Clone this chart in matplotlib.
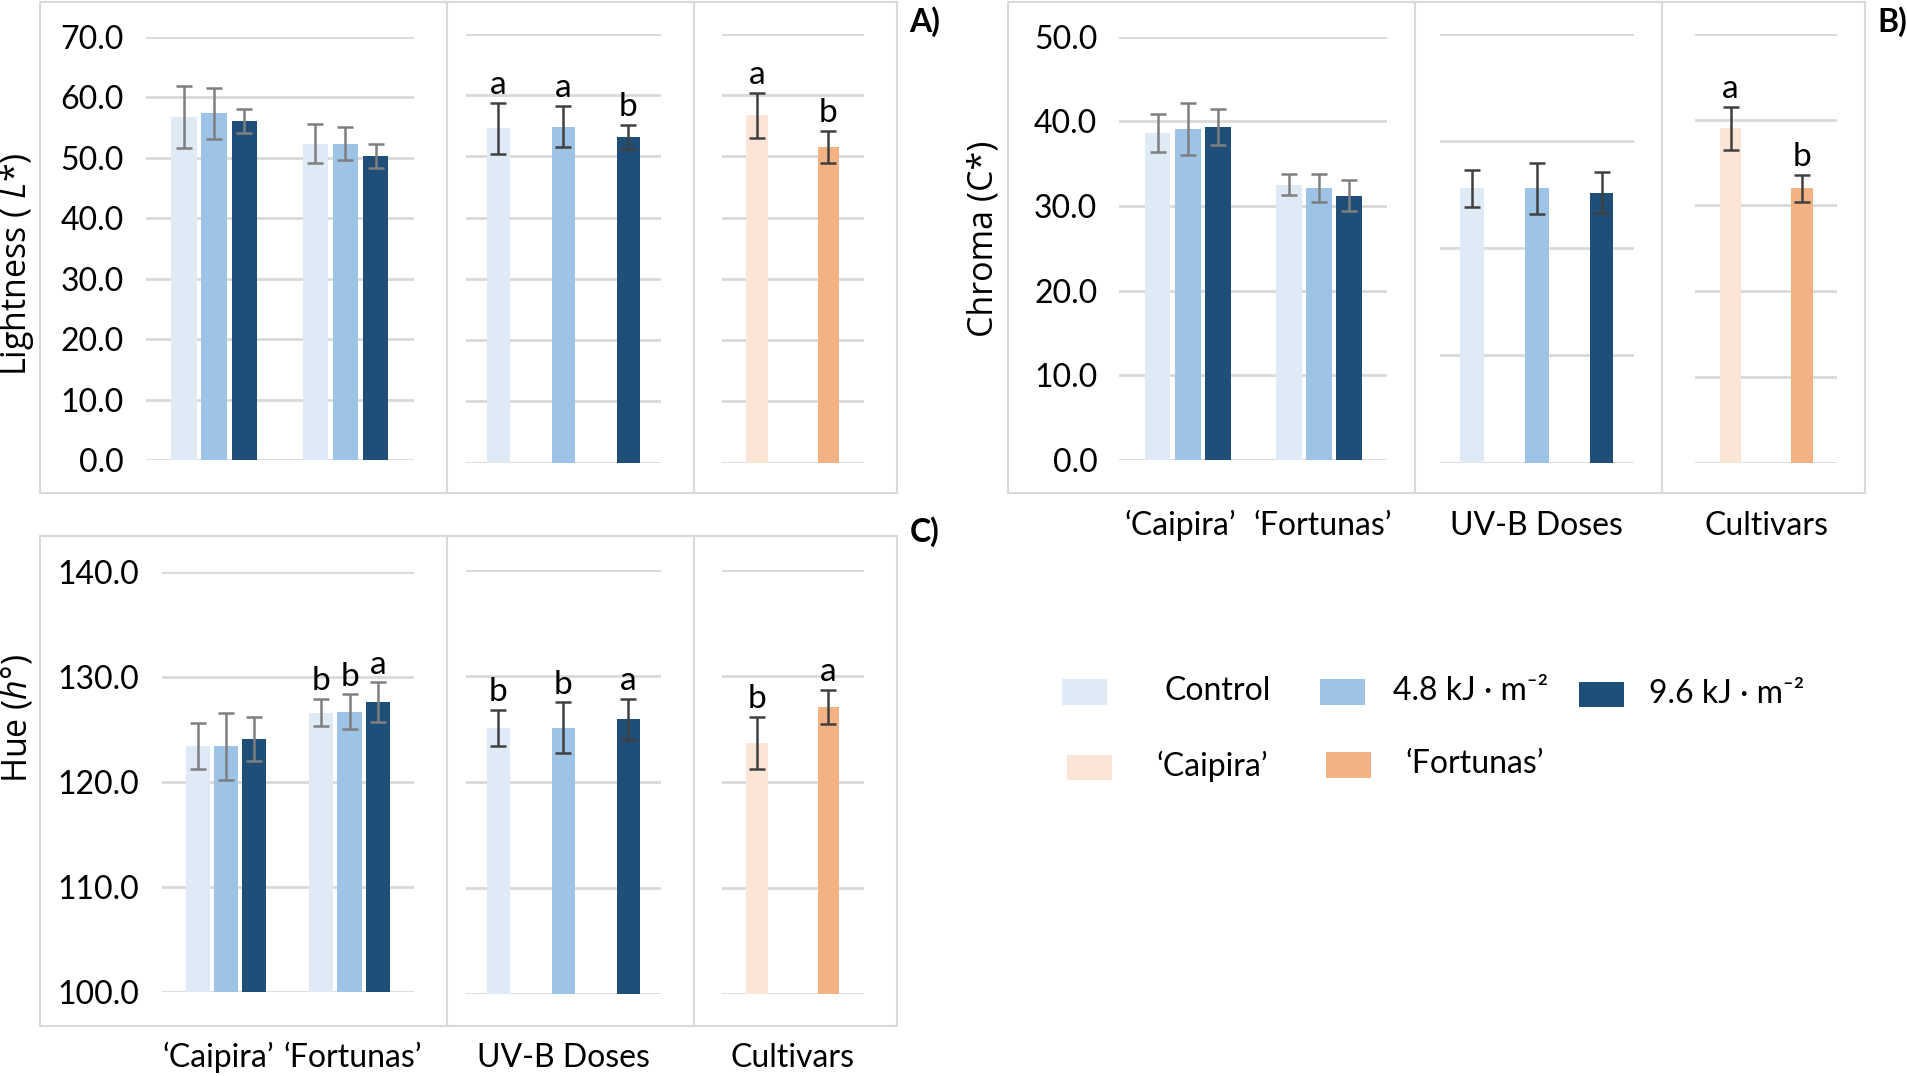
import numpy as np
import matplotlib
matplotlib.use("Agg")
import matplotlib.pyplot as plt
from matplotlib.patches import Rectangle
from matplotlib.lines import Line2D

plt.rcParams['font.family'] = ['Lato', 'DejaVu Sans']
plt.rcParams['mathtext.fontset'] = 'custom'
plt.rcParams['mathtext.rm'] = 'Open Sans'
plt.rcParams['mathtext.it'] = 'Open Sans:italic'

# ---- data ----
dose_names = ['Control', '4.8 kJ · m⁻²', '9.6 kJ · m⁻²']
cultivars = ['‘Caipira’', '‘Fortunas’']

# Lightness (L*)
L_caipira = [56.7, 57.3, 56.0]
L_caipira_err = [5.2, 4.2, 2.0]
L_fortunas = [52.3, 52.3, 50.3]
L_fortunas_err = [3.2, 2.7, 2.0]
L_uvb = [54.6, 54.9, 53.2]
L_uvb_err = [4.2, 3.4, 2.0]
L_uvb_let = ['a', 'a', 'b']
L_cult = [56.7, 51.6]
L_cult_err = [3.7, 2.6]
L_cult_let = ['a', 'b']

# Chroma (C*)
C_caipira = [38.6, 39.1, 39.3]
C_caipira_err = [2.2, 3.1, 2.1]
C_fortunas = [32.5, 32.1, 31.2]
C_fortunas_err = [1.25, 1.65, 1.85]
C_uvb = [32.0, 32.0, 31.5]
C_uvb_err = [2.15, 3.0, 2.4]
C_cult = [39.0, 32.0]
C_cult_err = [2.5, 1.6]
C_cult_let = ['a', 'b']

# Hue (h°)
H_caipira = [123.4, 123.4, 124.1]
H_caipira_err = [2.2, 3.2, 2.1]
H_fortunas = [126.6, 126.7, 127.6]
H_fortunas_err = [1.3, 1.65, 1.9]
H_fortunas_let = ['b', 'b', 'a']
H_uvb = [125.1, 125.1, 125.9]
H_uvb_err = [1.7, 2.4, 1.9]
H_uvb_let = ['b', 'b', 'a']
H_cult = [123.7, 127.1]
H_cult_err = [2.45, 1.6]
H_cult_let = ['b', 'a']

dose_colors = ['#deebf7', '#9dc3e6', '#1f4e79']
cult_colors = ['#fbe5d6', '#f4b183']
grid_c = '#d9d9d9'

W, H = 1568.0, 884.0  # layout measured on this scale


def fx(x):
    return x / W


def fy(y):
    return 1 - y / H


fig = plt.figure(figsize=(19.08, 10.76), dpi=100)


def make_ax(x0, x1, ytop, ybot):
    ax = fig.add_axes([fx(x0), fy(ybot), fx(x1) - fx(x0), (ybot - ytop) / H])
    for s in ax.spines.values():
        s.set_visible(False)
    ax.set_xticks([])
    ax.tick_params(axis='y', length=0, labelsize=23, pad=16)
    ax.patch.set_alpha(0)
    return ax


def grid(ax, ylim, ticks, labels):
    ax.set_ylim(*ylim)
    ax.set_yticks(ticks)
    for t in ticks:
        ax.axhline(t, color=grid_c, lw=2.0, zorder=0)
    if labels:
        ax.set_yticklabels(['%.1f' % t for t in ticks])
    else:
        ax.set_yticklabels([])


def bars(ax, x, vals, errs, colors, width, ecolor, letters=None):
    ax.bar(x, vals, width=width, color=colors, zorder=2)
    ax.errorbar(x, vals, yerr=errs, fmt='none', ecolor=ecolor, elinewidth=1.8,
                capsize=6, capthick=1.8, zorder=3)
    if letters:
        for xi, v, e, l in zip(x, vals, errs, letters):
            ax.annotate(l, (xi, v + e), xytext=(0, 2), textcoords='offset points',
                        ha='center', va='bottom', fontsize=24)


def panel(top, bot, top2, bot2, left1, ylim, ticks, ticks2, ticks3,
          cai, cai_e, fort, fort_e, fort_let, uvb, uvb_e, uvb_let, cult, cult_e, cult_let,
          xoff=0):
    pitch = 0.23
    a1 = make_ax(left1 + xoff, 340 + xoff, top, bot)
    grid(a1, ylim, ticks, True)
    a1.set_xlim(-0.52, 1.52)
    bars(a1, np.arange(3) * pitch - pitch, cai, cai_e, dose_colors, 0.195, '#7f7f7f')
    bars(a1, 1 + np.arange(3) * pitch - pitch, fort, fort_e, dose_colors, 0.195, '#7f7f7f', fort_let)

    a2 = make_ax(383 + xoff, 543 + xoff, top2, bot2)
    grid(a2, ylim, ticks2, False)
    a2.set_xlim(-0.5, 2.5)
    bars(a2, np.arange(3), uvb, uvb_e, dose_colors, 0.36, '#404040', uvb_let)

    a3 = make_ax(593 + xoff, 710 + xoff, top2, bot2)
    grid(a3, ylim, ticks3, False)
    a3.set_xlim(-0.5, 1.5)
    bars(a3, np.arange(2), cult, cult_e, cult_colors, 0.30, '#404040', cult_let)
    return a1, a2, a3


def box(x0, x1, y0, y1, d1, d2):
    fig.add_artist(Rectangle((fx(x0), fy(y1)), fx(x1) - fx(x0), (y1 - y0) / H,
                             transform=fig.transFigure, fill=False, ec=grid_c, lw=1.5))
    for d in (d1, d2):
        fig.add_artist(Line2D([fx(d), fx(d)], [fy(y1), fy(y0)], transform=fig.transFigure,
                              color=grid_c, lw=1.5))


# Panel A - Lightness
box(33, 737, 2, 405, 367, 570)
panel(30, 378, 28, 380, 120, (0, 70), np.arange(0, 71, 10), np.arange(0, 71, 10), np.arange(0, 71, 10),
      L_caipira, L_caipira_err, L_fortunas, L_fortunas_err, None,
      L_uvb, L_uvb_err, L_uvb_let, L_cult, L_cult_err, L_cult_let)
fig.text(fx(14), fy(217), 'Lightness ( $\\mathit{L}$*)', rotation=90, ha='center', va='center',
         fontsize=24.5, family='Open Sans')
fig.text(fx(760), fy(18), 'A)', fontsize=23, fontweight='bold', ha='center', va='center')

# Panel B - Chroma
box(828, 1533, 2, 405, 1163, 1366)
b1, b2, b3 = panel(30, 378, 28, 380, 120, (0, 50), np.arange(0, 51, 10), np.arange(0, 51, 12.5),
                   np.arange(0, 51, 10),
                   C_caipira, C_caipira_err, C_fortunas, C_fortunas_err, None,
                   C_uvb, C_uvb_err, None, C_cult, C_cult_err, C_cult_let, xoff=800)
fig.text(fx(808), fy(196), 'Chroma (C*)', rotation=90, ha='center', va='center',
         fontsize=24.5, family='Open Sans')
fig.text(fx(1555), fy(18), 'B)', fontsize=23, fontweight='bold', ha='center', va='center')

# Panel C - Hue
box(33, 737, 440, 843, 367, 570)
c1, c2, c3 = panel(470, 815, 468, 817, 133, (100, 140), np.arange(100, 141, 10),
                   np.arange(100, 141, 10), np.arange(100, 141, 10),
                   H_caipira, H_caipira_err, H_fortunas, H_fortunas_err, H_fortunas_let,
                   H_uvb, H_uvb_err, H_uvb_let, H_cult, H_cult_err, H_cult_let)
fig.text(fx(14), fy(590), 'Hue ($\\mathit{h}$°)', rotation=90, ha='center', va='center',
         fontsize=24.5, family='Open Sans')
fig.text(fx(760), fy(437), 'C)', fontsize=23, fontweight='bold', ha='center', va='center')

# category labels under panels B and C
for ax1, ax2, ax3, ylab in [(b1, b2, b3, 432), (c1, c2, c3, 869)]:
    ybl = fy(ylab)
    for xi, name in zip([-0.06, 1.03], cultivars):
        xd = ax1.transData.transform((xi, 0))[0]
        xf = fig.transFigure.inverted().transform((xd, 0))[0]
        fig.text(xf, ybl, name, ha='center', va='center', fontsize=23)
    for ax, name in [(ax2, 'UV-B Doses'), (ax3, 'Cultivars')]:
        xd = ax.transAxes.transform((0.5, 0))[0]
        xf = fig.transFigure.inverted().transform((xd, 0))[0]
        fig.text(xf, ybl, name, ha='center', va='center', fontsize=23)

# legend
leg_rows = [
    [(873, 558, 957, dose_names[0], dose_colors[0]),
     (1085, 558, 1145, dose_names[1], dose_colors[1]),
     (1298, 560, 1355, dose_names[2], dose_colors[2])],
    [(877, 620, 950, cultivars[0], cult_colors[0]),
     (1090, 618, 1155, cultivars[1], cult_colors[1])],
]
for row in leg_rows:
    for px, py, tx, label, col in row:
        fig.add_artist(Rectangle((fx(px), fy(py + 21)), 37 / W, 21 / H,
                                 transform=fig.transFigure, fc=col, ec='none'))
        fig.text(fx(tx), fy(py + 10), label, ha='left', va='center', fontsize=23)

fig.savefig('out.png', dpi=100)
